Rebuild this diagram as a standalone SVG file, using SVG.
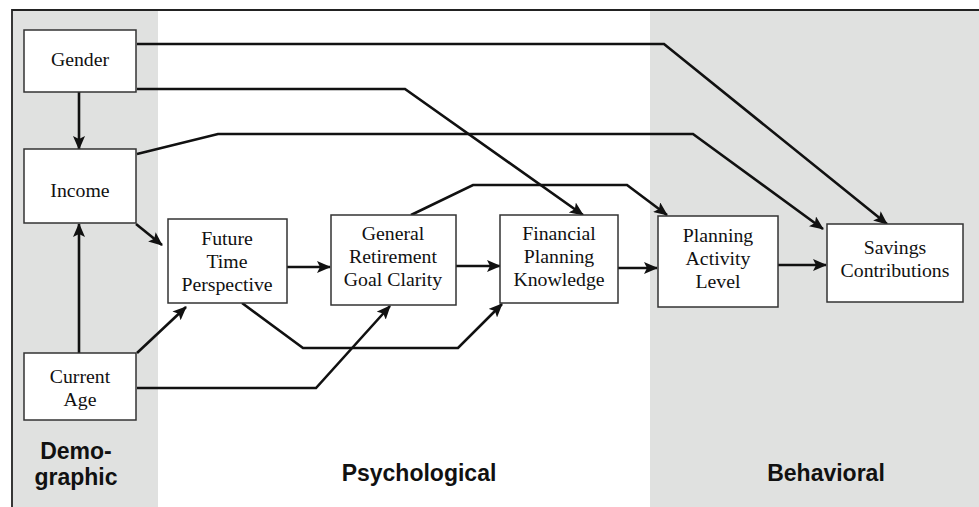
<svg xmlns="http://www.w3.org/2000/svg" width="979" height="507" viewBox="0 0 979 507">
<style>
.band{fill:#e0e1e0}
.box{fill:#fff;stroke:#333;stroke-width:1.5}
.t{font-family:"Liberation Serif","Times New Roman",serif;font-size:19.8px;fill:#111;text-anchor:middle}
.h{font-family:"Liberation Sans",Arial,sans-serif;font-size:23px;font-weight:bold;fill:#111;text-anchor:middle}
.c{fill:none;stroke:#111;stroke-width:2.6;stroke-linejoin:miter;marker-end:url(#ah)}
</style>
<defs>
<marker id="ah" markerUnits="userSpaceOnUse" markerWidth="14" markerHeight="12" viewBox="0 0 14 12" refX="13" refY="6" orient="auto">
<path d="M0,0 L14,6 L0,12 L3,6 Z" fill="#111"/>
</marker>
</defs>
<rect width="979" height="507" fill="#fff"/>
<rect class="band" x="13" y="11" width="145" height="496"/>
<rect class="band" x="650" y="11" width="329" height="496"/>
<path d="M12,507 V10 H979" fill="none" stroke="#222" stroke-width="1.8"/>
<g id="connectors">
<path class="c" d="M137,44 H664 L887,224"/>
<path class="c" d="M137,89 H405 L583,215"/>
<path class="c" d="M137,154 L218,134 H693 L823,229"/>
<path class="c" d="M79,92 V149"/>
<path class="c" d="M79,353 V224"/>
<path class="c" d="M136,224 L162,245"/>
<path class="c" d="M137,353 L186,307"/>
<path class="c" d="M287,267 H330"/>
<path class="c" d="M242,303 L303,348 H458 L502,304"/>
<path class="c" d="M137,388 H316 L390,306"/>
<path class="c" d="M456,266 H500"/>
<path class="c" d="M411,215 L473,185 H627 L667,215"/>
<path class="c" d="M618,268 H657"/>
<path class="c" d="M774,265 H826"/>
</g>
<g id="gender"><rect class="box" x="24" y="30" width="112" height="62"/><text class="t" x="80" y="66">Gender</text></g>
<g id="income"><rect class="box" x="24" y="149" width="112" height="74"/><text class="t" x="80" y="197">Income</text></g>
<g id="current-age"><rect class="box" x="24" y="353" width="112" height="67"/><text class="t" x="80" y="383">Current</text><text class="t" x="80" y="406">Age</text></g>
<g id="future-time"><rect class="box" x="168" y="219" width="119" height="84"/><text class="t" x="227" y="245">Future</text><text class="t" x="227" y="268">Time</text><text class="t" x="227" y="291">Perspective</text></g>
<g id="goal-clarity"><rect class="box" x="331" y="215" width="125" height="90"/><text class="t" x="393" y="240">General</text><text class="t" x="393" y="263">Retirement</text><text class="t" x="393" y="286">Goal Clarity</text></g>
<g id="financial-knowledge"><rect class="box" x="500" y="215" width="118" height="88"/><text class="t" x="559" y="240">Financial</text><text class="t" x="559" y="263">Planning</text><text class="t" x="559" y="286">Knowledge</text></g>
<g id="planning-activity"><rect class="box" x="658" y="216" width="120" height="91"/><text class="t" x="718" y="242">Planning</text><text class="t" x="718" y="265">Activity</text><text class="t" x="718" y="288">Level</text></g>
<g id="savings"><rect class="box" x="827" y="224" width="136" height="78"/><text class="t" x="895" y="254">Savings</text><text class="t" x="895" y="277">Contributions</text></g>
<g id="labels">
<text class="h" x="76" y="459">Demo-</text>
<text class="h" x="76" y="485">graphic</text>
<text class="h" x="419" y="481">Psychological</text>
<text class="h" x="826" y="481">Behavioral</text>
</g>
</svg>
